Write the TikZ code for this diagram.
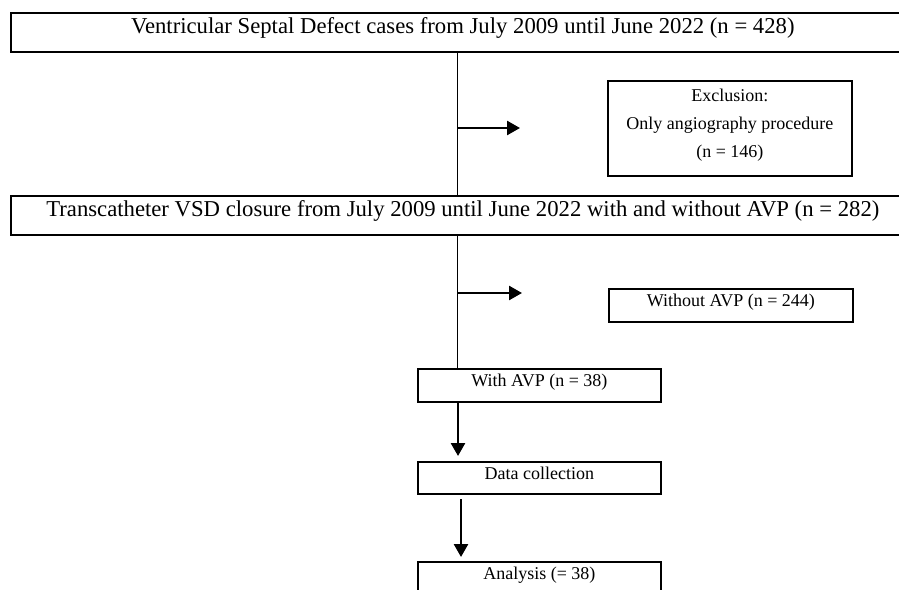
\documentclass[tikz,border=0pt]{standalone}
\usepackage{fontspec}
\setmainfont{Liberation Serif}
\usetikzlibrary{arrows.meta}
\begin{document}
\begin{tikzpicture}[x=1pt,y=-1pt,
  box/.style={draw, line width=1.7pt, inner sep=0pt, text height=8pt, text depth=5pt, anchor=north west},
  big/.style={font=\fontsize{22.7}{27}\selectfont},
  small/.style={font=\fontsize{18}{28}\selectfont},
  link/.style={line width=0.8pt},
  flow/.style={line width=2.6pt, -{Triangle[length=13pt,width=14pt]}}]
\useasboundingbox (0,0) rectangle (899,589);
\node[box,big,minimum width=904pt,minimum height=39pt] (b1) at (10,12)
  {Ventricular Septal Defect cases from July 2009 until June 2022 (n = 428)};
\node[box,small,align=center,text height=64pt,text depth=5pt,minimum width=244pt,minimum height=95pt] (excl) at (607,80)
  {Exclusion:\\Only angiography procedure\\(n = 146)};
\node[box,big,minimum width=904pt,minimum height=39pt] (b2) at (10,195)
  {Transcatheter VSD closure from July 2009 until June 2022 with and without AVP (n = 282)};
\node[box,small,minimum width=244pt,minimum height=33pt] (wo) at (608,288)
  {Without AVP (n = 244)};
\node[box,small,minimum width=243pt,minimum height=33pt] (with) at (417,368)
  {With AVP (n = 38)};
\node[box,small,minimum width=243pt,minimum height=32pt] (data) at (417,461)
  {Data collection};
\node[box,small,minimum width=243pt,minimum height=33pt] (ana) at (417,561)
  {Analysis (= 38)};
\coordinate (s) at (457,0);
\coordinate (a1s) at (457,128);
\coordinate (a1e) at (520,128);
\coordinate (a2s) at (457,293);
\coordinate (a2e) at (522,293);
\coordinate (v3) at (458,0);
\coordinate (t3) at (458,456);
\coordinate (v4s) at (461,499);
\coordinate (t4) at (461,557);
\draw[link] (b1.south -| s) -- (b2.north -| s);
\draw[link] (b2.south -| s) -- (with.north -| s);
\draw[flow] (a1s) -- (a1e);
\draw[flow] (a2s) -- (a2e);
\draw[flow] (with.south -| v3) -- (t3);
\draw[flow] (v4s) -- (t4);
\end{tikzpicture}
\end{document}
